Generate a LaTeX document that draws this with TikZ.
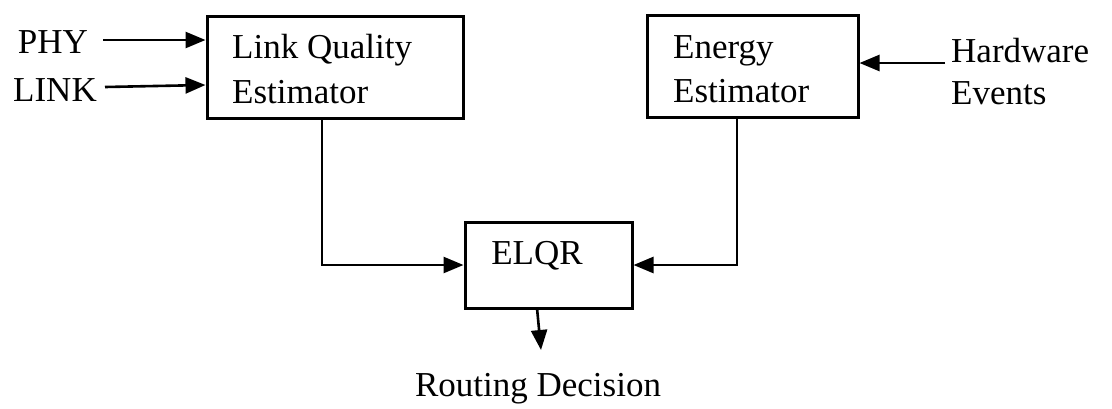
\documentclass[tikz,border=0pt]{standalone}
\usepackage{fontspec}
\setmainfont{Liberation Serif}
\usetikzlibrary{arrows.meta}
\begin{document}
\begin{tikzpicture}[x=1pt,y=-1pt,
  blk/.style={draw, line width=3pt, inner sep=0pt, rectangle},
  txt/.style={inner sep=0pt, font=\fontsize{35}{40}\selectfont},
  conn/.style={line width=2.6pt, -{Triangle[length=20pt,width=16pt]}}]
\useasboundingbox (0,0) rectangle (1112,408);
\node[blk, minimum width=256pt, minimum height=102pt] (lqe) at (335,67) {};
\node[blk, minimum width=211pt, minimum height=102pt] (ee) at (752.5,66) {};
\node[blk, minimum width=167pt, minimum height=86pt] (elqr) at (548.5,265) {};
% texts
\node[txt, anchor=west] (lq1) at (232,50) {Link Quality};
\node[txt, anchor=west] (lq2) at (232,92) {Estimator};
\node[txt, anchor=west] (ee1) at (673,51) {Energy};
\node[txt, anchor=west] (ee2) at (673,91) {Estimator};
\node[txt] (elqrt) at (537,256) {ELQR};
\node[txt] (phy) at (53,42) {PHY};
\node[txt] (link) at (55,90) {LINK};
\node[txt, anchor=west, align=left] (hw1) at (951,51) {Hardware};
\node[txt, anchor=west, align=left] (hw2) at (951,93) {Events};
\node[txt] (rd) at (538,389) {Routing Decision};
% connectors
\coordinate (phyend) at (103,40);
\coordinate (linkend) at (105,87);
\coordinate (hwend) at (945,63);
\draw[conn] (phyend) -- (lqe.west |- phyend);
\draw[conn] (linkend) -- (lqe.west |- 0,85);
\draw[conn] (hwend) -- (ee.east |- hwend);
\coordinate (lqd) at (322,118);
\coordinate (eed) at (737,117);
\draw[conn] (lqd) -- (322,265) -- (elqr.west);
\draw[conn] (eed) -- (737,265) -- (elqr.east);
\coordinate (rdtop) at (541,350);
\draw[conn] (537,308) -- (rdtop);
\end{tikzpicture}
\end{document}
